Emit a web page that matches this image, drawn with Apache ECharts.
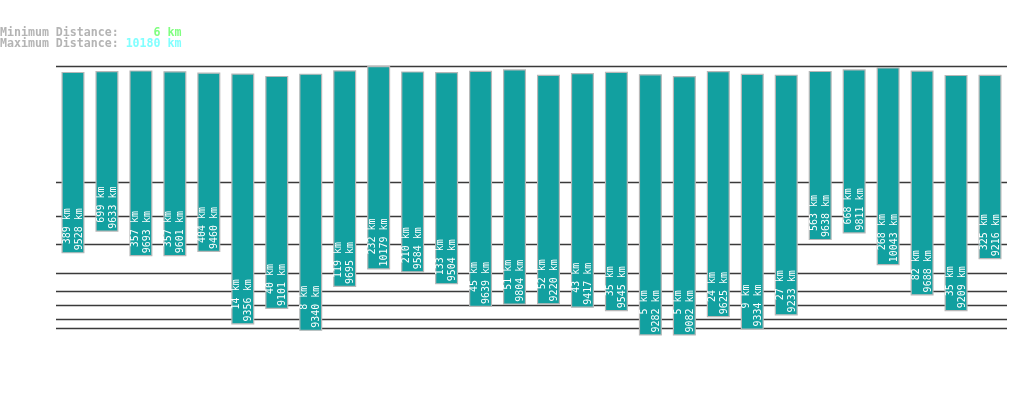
<!DOCTYPE html>
<html>
<head>
<meta charset="utf-8">
<script src="https://cdn.jsdelivr.net/npm/echarts@6/dist/echarts.min.js"></script>
<style>html,body{margin:0;padding:0;background:#fff;}#c{width:1019px;height:402px;}</style>
</head>
<body>
<div id="c"></div>
<script>
// Data (km)
const minDist = [389, 699, 357, 357, 404, 14, 40, 8, 119, 232, 210, 133, 45, 51, 52, 43, 35, 5, 5, 24, 9, 27, 563, 668, 268, 82, 35, 325];
const maxDist = [9528, 9633, 9693, 9601, 9460, 9356, 9101, 9340, 9695, 10179, 9584, 9504, 9639, 9804, 9220, 9417, 9545, 9282, 9082, 9625, 9334, 9233, 9638, 9811, 10043, 9688, 9209, 9216];
const categories = minDist.map((_, i) => 'P' + (i + 1));
const gridValues = [10, 20, 50, 100, 200, 500, 1000, 2000];
const summaryMin = 6;
const summaryMax = 10180;

// power scale transform used by the value axis
const P = 0.3;
const t = v => Math.pow(v, P);

const chart = echarts.init(document.getElementById('c'));
const mono = "'DejaVu Sans Mono', 'Liberation Mono', monospace";

function pad(s, n) { while (s.length < n) s = ' ' + s; return s; }

chart.setOption({
  animation: false,
  backgroundColor: '#ffffff',
  title: {
    left: 0, top: 27, padding: 0,
    text: '{l|Minimum Distance: }{g|' + pad(summaryMin + ' km', 8) + '}\n{l|Maximum Distance: }{c|' + pad(summaryMax + ' km', 8) + '}',
    textStyle: {
      fontFamily: mono, fontSize: 11.6, lineHeight: 11,
      rich: {
        l: { color: '#b4b4b4', fontFamily: mono, fontSize: 11.6, fontWeight: 'bold', lineHeight: 11 },
        g: { color: '#80ff80', fontFamily: mono, fontSize: 11.6, fontWeight: 'bold', lineHeight: 11 },
        c: { color: '#80ffff', fontFamily: mono, fontSize: 11.6, fontWeight: 'bold', lineHeight: 11 }
      }
    }
  },
  grid: { left: 56, right: 12, top: 66, bottom: 36 },
  xAxis: {
    type: 'category', data: categories,
    axisLine: { show: false }, axisTick: { show: false }, axisLabel: { show: false }
  },
  yAxis: {
    type: 'value', min: 0, max: t(summaryMax),
    axisLine: { show: false }, axisTick: { show: false }, axisLabel: { show: false },
    splitLine: { show: false }
  },
  series: [
    {
      type: 'line', data: [], zlevel: 0, z: 1, silent: true,
      markLine: {
        silent: true, symbol: 'none', label: { show: false },
        lineStyle: { color: '#3a3a3a', width: 1.3, type: 'solid' },
        data: gridValues.concat([summaryMax]).map(v => ({ yAxis: t(v) }))
      }
    },
    {
      type: 'bar', stack: 's', zlevel: 1, z: 2, barWidth: 23,
      itemStyle: { color: 'transparent' },
      data: minDist.map(v => t(v))
    },
    {
      type: 'bar', stack: 's', zlevel: 1, z: 3, barWidth: 23,
      itemStyle: { color: '#12a0a0', borderColor: '#b8b8b8', borderWidth: 1.2 },
      data: maxDist.map((v, i) => t(v) - t(minDist[i])),
      label: {
        show: true, position: 'insideBottom', rotate: 90, distance: 3,
        align: 'left', verticalAlign: 'middle',
        fontFamily: mono, fontSize: 10, lineHeight: 12, color: '#ffffff',
        textBorderWidth: 0,
        formatter: p => {
          const a = minDist[p.dataIndex] + ' km';
          const b = maxDist[p.dataIndex] + ' km';
          const n = Math.max(a.length, b.length);
          return pad(a, n) + '\n' + pad(b, n);
        }
      }
    }
  ]
});
</script>
</body>
</html>
